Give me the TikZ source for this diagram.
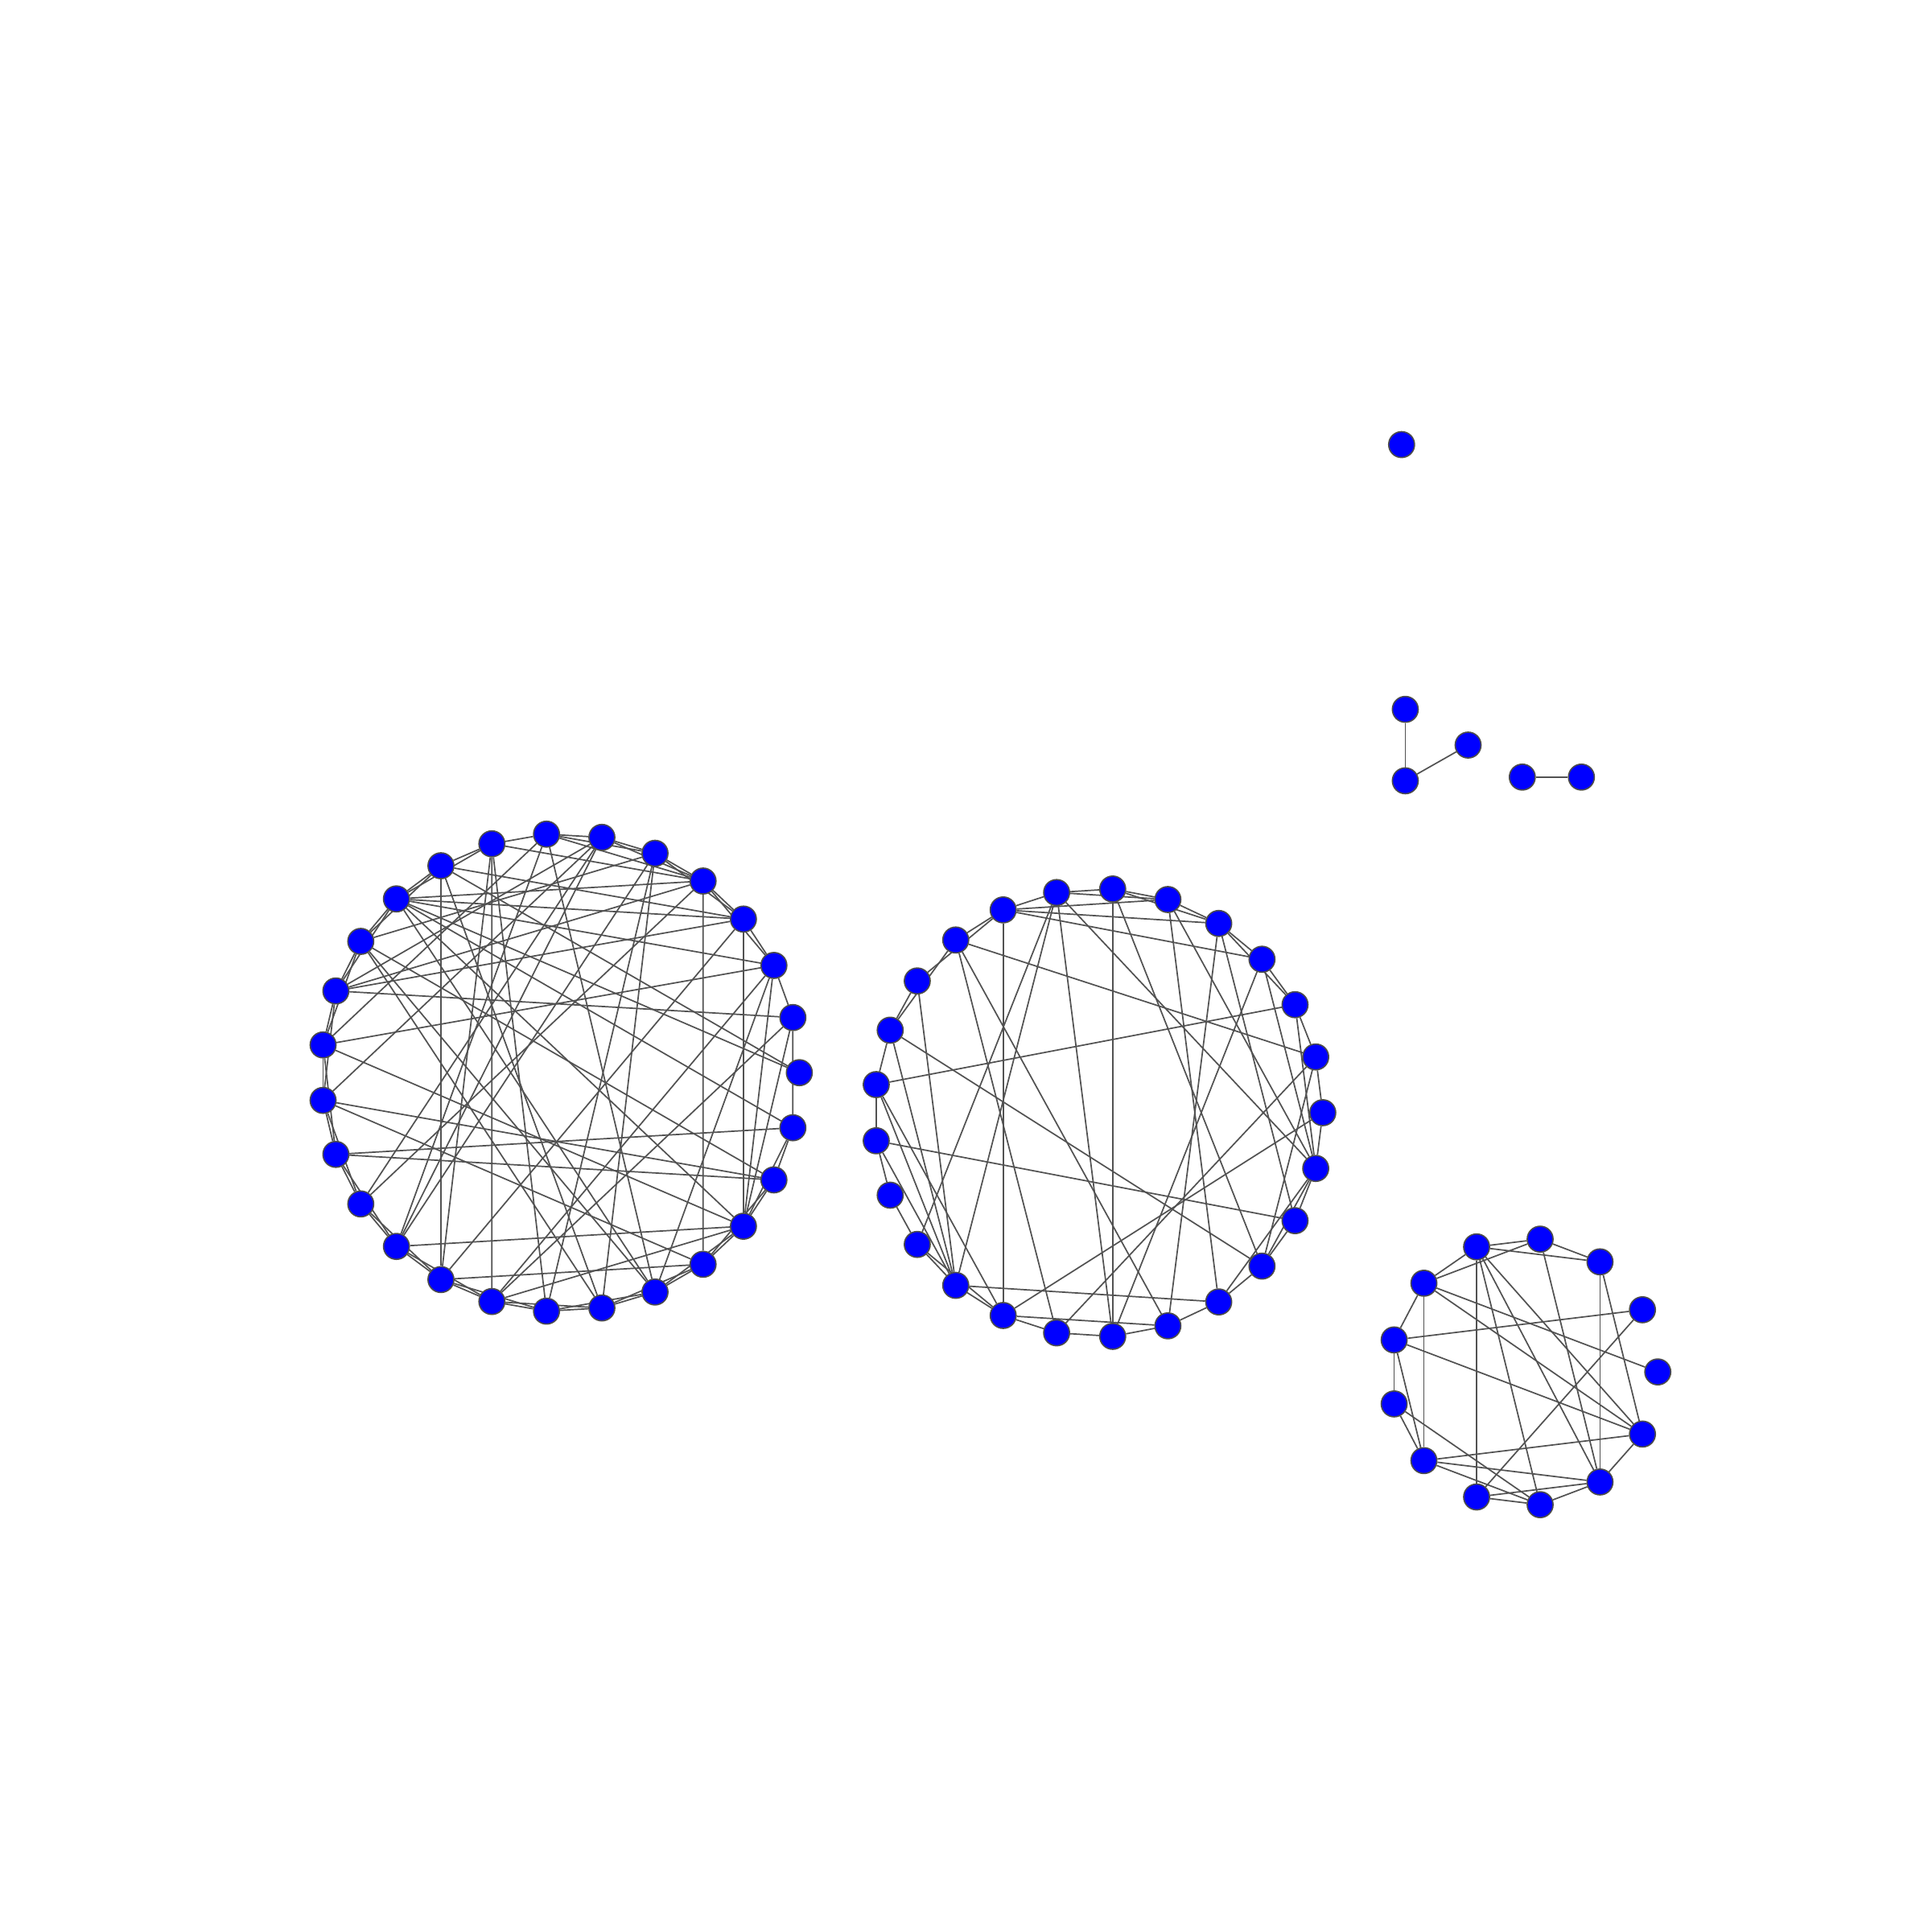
\documentclass[tikz,border=0pt]{standalone}
\usepackage{tikz}
\usetikzlibrary{backgrounds}

\begin{document}
\begin{tikzpicture}[x=0.1mm,y=-0.1mm,
      vert/.style={circle,draw=black!70,line width=0.3pt,fill=blue,
                   minimum size=2.1mm,inner sep=0pt},
      link/.style={draw=black!68,line width=0.32pt}]
    \useasboundingbox (0,0) rectangle (1568,1568);
    % left ring, 27 vertices
    \foreach \k in {0,...,26}
      \node[vert] (a\k) at ({455+194*cos(\k*360/27)},{871-194*sin(\k*360/27)}) {};
    % middle ring, 25 vertices
    \foreach \k in {0,...,24}
      \node[vert] (b\k) at ({892+182*cos(\k*14.4)},{903.5-182*sin(\k*14.4)}) {};
    % small ring, 13 vertices
    \foreach \k in {0,...,12}
      \node[vert] (c\k) at ({1237.4+108.6*cos(\k*360/13)},{1114-108.6*sin(\k*360/13)}) {};
    % loose pieces
    \node[vert] (lone) at (1138,361) {};
    \node[vert] (p1) at (1141,576) {};
    \node[vert] (p2) at (1141,634) {};
    \node[vert] (p3) at (1192,605) {};
    \node[vert] (q1) at (1236,631) {};
    \node[vert] (q2) at (1284,631) {};
    \begin{scope}[on background layer]
      \foreach \i/\j in {1/2,2/3,3/4,4/5,5/6,6/7,7/8,8/9,9/10,10/11,11/12,12/13,13/14,
          14/15,15/16,16/17,17/18,18/19,19/20,20/21,21/22,22/23,23/24,24/25,25/26,1/26,
          10/12,11/13,12/14,13/15,14/16,16/18,17/19,18/20,19/21,20/22,21/23,22/24,23/25,
          24/26,2/4,3/5,4/6,5/7,8/10,9/11,15/17,
          9/18,8/19,4/23,3/24,2/13,13/24,14/23,15/26,15/25,0/9,0/10,3/10,3/12,5/11,1/19,
          10/26,3/18,17/24,18/23,5/17,5/21,9/21,7/13,7/22,4/10,4/12,4/8,4/7,3/9,2/10,
          1/12,11/25,11/21,11/22,7/17,6/17,6/16,4/16,8/18,2/19,10/22,10/24,2/24,1/24,
          5/20,8/20,14/25,6/12,19/24,2/22,6/14}
        \draw[link] (a\i) -- (a\j);
      \foreach \i/\j in {7/6,6/5,7/5,5/4,6/4,8/7,8/5,8/4,8/3,4/3,3/2,4/2,2/1,1/0,0/24,
          24/23,8/17,6/19,7/19,7/16,7/15,7/24,6/22,5/21,5/24,4/20,4/23,3/19,3/24,2/24,
          9/1,9/18,9/20,2/12,13/23,11/22,16/21,0/17,1/18,1/22,8/9,8/10,9/11,10/11,11/12,
          12/13,13/14,14/15,15/16,15/17,16/17,17/18,18/19,19/20,20/21,21/22,22/23,24/22,
          24/21,17/20,10/16,11/16,12/16,13/16,12/17}
        \draw[link] (b\i) -- (b\j);
      \foreach \i/\j in {4/3,4/2,5/3,3/2,5/4,5/6,5/8,5/0,5/12,4/9,4/10,4/11,4/12,3/11,
          2/11,2/12,1/6,1/9,6/7,6/8,6/12,7/8,7/10,8/12,8/11,8/10,9/11,9/10,10/11,11/12}
        \draw[link] (c\i) -- (c\j);
      \draw[link] (p1) -- (p2);
      \draw[link] (p2) -- (p3);
      \draw[link] (q1) -- (q2);
    \end{scope}
\end{tikzpicture}
\end{document}
